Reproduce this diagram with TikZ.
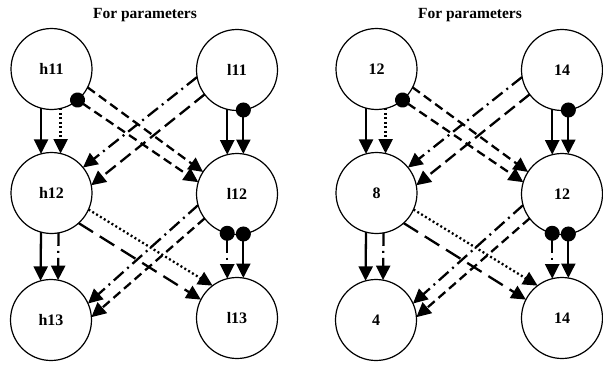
\documentclass[tikz,border=0pt]{standalone}
\usepackage{fontspec}
\setmainfont{Liberation Serif}
\usetikzlibrary{arrows.meta}

\tikzset{
  state/.style={circle, draw, line width=1.2pt, minimum size=81pt,
    inner sep=0pt, outer sep=0pt, font=\fontsize{16}{18}\selectfont\bfseries},
  title/.style={font=\fontsize{15.5}{17}\selectfont\bfseries},
  conn/.style={line width=2.3pt, -{Triangle[length=14.5pt,width=14pt]}},
  bullet/.style={{Circle[length=15pt]}-{Triangle[length=14.5pt,width=14pt]}, shorten <=-7.5pt},
  shortdash/.style={dash pattern=on 9pt off 5pt},
  middash/.style={dash pattern=on 13pt off 6pt},
  longdash/.style={dash pattern=on 17pt off 8pt},
  dashdotline/.style={dash pattern=on 13pt off 5pt on 2pt off 5pt},
  dotline/.style={dash pattern=on 2pt off 2.5pt},
}

% one panel: #1 name prefix, #2 x shift, #3..#8 node labels
\newcommand\drawpanel[8]{%
  \begin{scope}[xshift=#2pt]
    \node[title] (#1t) at (145,15) {For parameters};
    \node[state] (#1a) at (51.5,69)  {#3};
    \node[state] (#1b) at (237,70)   {#4};
    \node[state] (#1c) at (51.5,193) {#5};
    \node[state] (#1d) at (237,194)  {#6};
    \node[state] (#1e) at (51,320)   {#7};
    \node[state] (#1f) at (237,318)  {#8};
    % first layer
    \draw[conn] (#1a.-105.8) -- (#1c.105.8);
    \draw[conn, dotline] (#1a.-77.2) -- (#1c.77.2);
    \draw[conn, shortdash] (#1a.-27.5) -- (#1d.147);
    \draw[conn, shortdash, bullet] (#1a.-50) -- (#1d.163);
    \draw[conn, dashdotline] (#1b.-170) -- (#1c.39.5);
    \draw[conn, middash] (#1b.-143.6) -- (#1c.11);
    \draw[conn] (#1b.-104.3) -- (#1d.104.3);
    \draw[conn, bullet] (#1b.-81.5) -- (#1d.81.5);
    % second layer
    \draw[conn] (#1c.-105.8) -- (#1e.105.8);
    \draw[conn, dashdotline] (#1c.-80) -- (#1e.80);
    \draw[conn, dotline] (#1c.-24.6) -- (#1f.127);
    \draw[conn, longdash] (#1c.-48.3) -- (#1f.153.8);
    \draw[conn, dashdotline] (#1d.-164) -- (#1e.24.7);
    \draw[conn, shortdash] (#1d.-143.3) -- (#1e.4);
    \draw[conn, dashdotline, bullet] (#1d.-104.3) -- (#1f.104.3);
    \draw[conn, bullet] (#1d.-81.5) -- (#1f.81.5);
  \end{scope}}

\begin{document}
\begin{tikzpicture}[x=1pt, y=-1pt]
  \useasboundingbox (0,0) rectangle (603,367);
  \drawpanel{p}{0}{h11}{l11}{h12}{l12}{h13}{l13}
  \drawpanel{q}{325}{12}{14}{8}{12}{4}{14}
\end{tikzpicture}
\end{document}
